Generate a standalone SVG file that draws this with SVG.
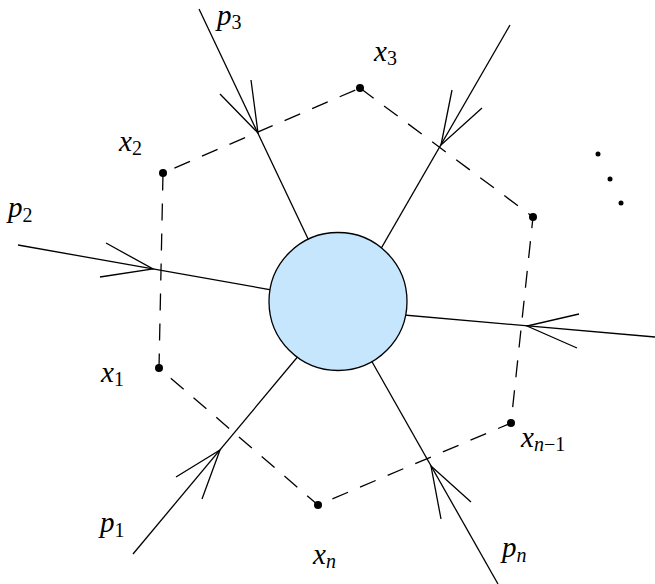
<svg xmlns="http://www.w3.org/2000/svg" width="655" height="584" viewBox="0 0 655 584">
<style>
.leg{stroke:#000;stroke-width:1.3;fill:none}
.arr{stroke:#000;stroke-width:1.3;fill:none;stroke-linejoin:miter}
.dash{stroke:#000;stroke-width:1.3;fill:none;stroke-dasharray:17 13}
text{font-family:'Liberation Serif','DejaVu Serif',serif;font-style:italic;font-size:29px;fill:#000}
tspan.sub{font-style:normal;font-size:20px}
tspan.subi{font-style:italic;font-size:20px}
</style>
<rect width="655" height="584" fill="#fff"/>
<g id="connectors">
  <polyline class="dash" points="360,88 533,217 511,423 318,505 159,368 163,173 360,88"/>
  <line class="leg" x1="199" y1="9" x2="338" y2="302"/>
  <line class="leg" x1="510" y1="25" x2="360" y2="285"/>
  <line class="leg" x1="18" y1="245" x2="300" y2="295"/>
  <line class="leg" x1="655" y1="337" x2="370" y2="312"/>
  <line class="leg" x1="133" y1="554" x2="320" y2="330"/>
  <line class="leg" x1="498" y1="584" x2="354" y2="330"/>
  <polyline class="arr" points="220,94 258,133 251,80"/>
  <polyline class="arr" points="452,90 441,145 482,108"/>
  <polyline class="arr" points="106,243 153,269 100,277"/>
  <polyline class="arr" points="579,314 527,326 577,348"/>
  <polyline class="arr" points="176,477 220,450 202,499"/>
  <polyline class="arr" points="471,502 431,466 441,519"/>
</g>
<g id="blob">
  <circle cx="338" cy="301.5" r="69" fill="#c5e6fd" stroke="#000" stroke-width="1.3"/>
</g>
<g id="x3"><circle cx="360" cy="88" r="4"/><text x="374" y="61">x<tspan class="sub" dy="4">3</tspan></text></g>
<g id="v"><circle cx="533" cy="217" r="4"/></g>
<g id="xn1"><circle cx="511" cy="423" r="4"/><text x="521" y="447">x<tspan class="subi" dy="4">n</tspan><tspan class="sub">−1</tspan></text></g>
<g id="xn"><circle cx="318" cy="505" r="4"/><text x="313" y="564">x<tspan class="subi" dy="4">n</tspan></text></g>
<g id="x1"><circle cx="159" cy="368" r="4"/><text x="101" y="382">x<tspan class="sub" dy="4">1</tspan></text></g>
<g id="x2"><circle cx="163" cy="173" r="4"/><text x="119" y="151">x<tspan class="sub" dy="4">2</tspan></text></g>
<g id="p3"><text x="217" y="25">p<tspan class="sub" dy="4">3</tspan></text></g>
<g id="p2"><text x="8" y="217">p<tspan class="sub" dy="5">2</tspan></text></g>
<g id="p1"><text x="100" y="532">p<tspan class="sub" dy="5">1</tspan></text></g>
<g id="pn"><text x="502" y="557">p<tspan class="subi" dy="5">n</tspan></text></g>
<g id="ellipsis"><circle cx="598" cy="154" r="2.5"/><circle cx="610" cy="179" r="2.5"/><circle cx="621" cy="203" r="2.5"/></g>
</svg>
